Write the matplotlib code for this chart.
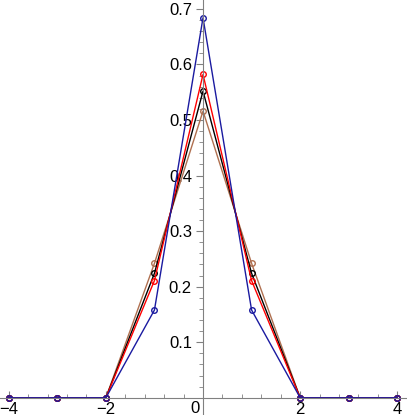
import matplotlib
matplotlib.use("Agg")
import matplotlib.pyplot as plt
import numpy as np

plt.rcParams['font.family'] = ['Liberation Sans', 'DejaVu Sans']

x = [-4, -3, -2, -1, 0, 1, 2, 3, 4]
brown = [0, 0, 0, 0.242, 0.516, 0.242, 0, 0, 0]
black = [0, 0, 0, 0.224, 0.552, 0.224, 0, 0, 0]
red = [0, 0, 0, 0.211, 0.582, 0.211, 0, 0, 0]
blue = [0, 0, 0, 0.158, 0.684, 0.158, 0, 0, 0]

series = [(brown, "#b07050"), (black, "black"), (red, "red"), (blue, "#1a1aa0")]

fig = plt.figure(figsize=(4.07, 4.15), dpi=100)
ax = fig.add_axes([0, 0, 1, 1])
for ys, c in series:
    ax.plot(x, ys, color=c, lw=1, marker="o", ms=4, mfc="none", mec=c, mew=1)

ax.set_xlim(-4.18, 4.2)
ax.set_ylim(-0.031, 0.716)

for s in ["top", "right"]:
    ax.spines[s].set_visible(False)
ax.spines["left"].set_position(("data", 0))
ax.spines["bottom"].set_position(("data", 0))
ax.spines["left"].set_color("gray")
ax.spines["bottom"].set_color("gray")

ax.set_xticks([-4, -2, 2, 4])
ax.set_xticklabels(["\u22124", "\u22122", "2", "4"])
ax.set_xticks(np.arange(-4, 4.01, 0.4), minor=True)
ax.set_yticks([0.1, 0.2, 0.3, 0.4, 0.5, 0.6, 0.7])
ax.set_yticks(np.arange(0, 0.71, 0.02), minor=True)

ax.tick_params(axis="x", which="both", direction="in", color="gray", labelsize=12, pad=3)
ax.tick_params(axis="x", which="major", length=5)
ax.tick_params(axis="x", which="minor", length=3)
ax.tick_params(axis="y", which="both", direction="out", color="gray", labelsize=12, pad=3)
ax.tick_params(axis="y", which="major", length=5)
ax.tick_params(axis="y", which="minor", length=3)
ax.text(-0.08, -0.006, "0", ha="right", va="top", fontsize=12)

fig.savefig("out.png", dpi=100)
